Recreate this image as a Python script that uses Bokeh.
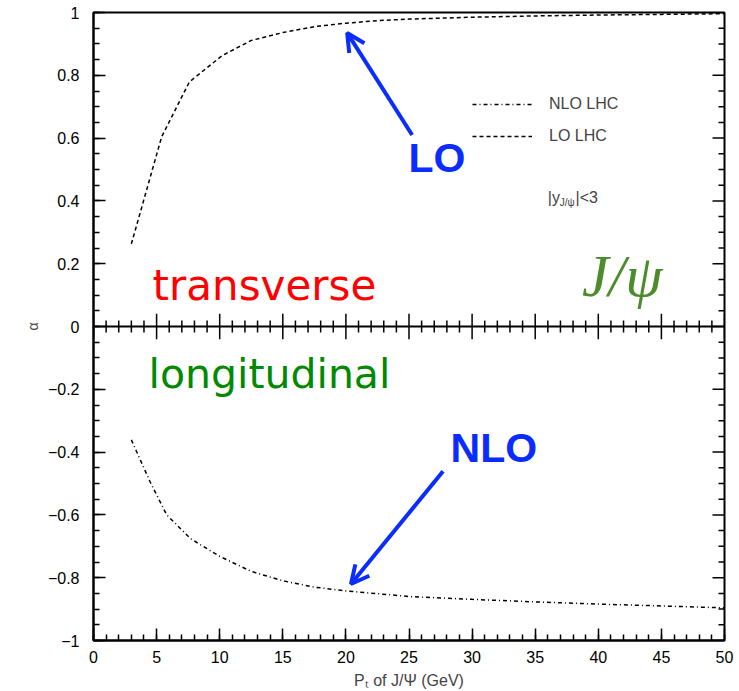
from bokeh.plotting import figure
from bokeh.models import (Range1d, FixedTicker, Span, Legend, LegendItem,
                          Arrow, OpenHead, Label)
from bokeh.embed import file_html
from bokeh.resources import INLINE

# ---- data ----
lo_pt = [3, 5.4, 7.6, 10.2, 12.5, 15, 17.5, 20, 22.5, 25, 30, 35, 40, 45, 50]
lo_alpha = [0.263, 0.604, 0.779, 0.863, 0.911, 0.936, 0.955, 0.966, 0.974, 0.979,
            0.985, 0.989, 0.992, 0.994, 0.996]

nlo_pt = [3, 4.5, 5.8, 7.7, 10, 12.5, 15, 17.5, 20, 25, 30, 35, 40, 45, 50]
nlo_alpha = [-0.361, -0.496, -0.600, -0.676, -0.732, -0.780, -0.810, -0.830, -0.842,
             -0.860, -0.869, -0.877, -0.884, -0.890, -0.896]

y_ticks = [-1, -0.8, -0.6, -0.4, -0.2, 0, 0.2, 0.4, 0.6, 0.8, 1]
y_tick_labels = ["\u22121", "\u22120.8", "\u22120.6", "\u22120.4", "\u22120.2", "0",
                 "0.2", "0.4", "0.6", "0.8", "1"]
y_minor = [round(-1 + 0.05 * i, 2) for i in range(41)]
x_ticks = [0, 5, 10, 15, 20, 25, 30, 35, 40, 45, 50]
x_minor = list(range(0, 51))

BLUE = "#0a2cff"
FONT = "Liberation Sans"
X_MAX = 50

p = figure(width=735, height=691, x_range=Range1d(0, X_MAX), y_range=Range1d(-1, 1),
           output_backend="svg", toolbar_location=None,
           min_border_left=93, min_border_right=11, min_border_top=12, min_border_bottom=49,
           x_axis_location="below", y_axis_location="left")
p.grid.visible = False
p.outline_line_color = "black"
p.outline_line_width = 2
p.background_fill_color = "white"
p.border_fill_color = "white"

# left axis
ya = p.yaxis[0]
ya.ticker = FixedTicker(ticks=y_ticks, minor_ticks=y_minor)
ya.major_label_overrides = {t: l for t, l in zip(y_ticks, y_tick_labels)}
ya.major_tick_in = 12
ya.major_tick_out = 0
ya.minor_tick_in = 6
ya.minor_tick_out = 0
ya.axis_line_width = 2
ya.major_tick_line_width = 1.5
ya.minor_tick_line_width = 1.5
ya.major_label_standoff = 14
ya.major_label_text_font = FONT
ya.major_label_text_font_size = "16px"
ya.major_label_text_color = "black"
ya.axis_label = "\u03b1"
ya.axis_label_text_font = FONT
ya.axis_label_text_font_style = "normal"
ya.axis_label_text_font_size = "14px"
ya.axis_label_standoff = 4

# bottom axis
xa = p.xaxis[0]
xa.ticker = FixedTicker(ticks=x_ticks, minor_ticks=x_minor)
xa.major_tick_in = 12
xa.major_tick_out = 0
xa.minor_tick_in = 6
xa.minor_tick_out = 0
xa.axis_line_width = 2
xa.major_tick_line_width = 1.5
xa.minor_tick_line_width = 1.5
xa.major_label_standoff = 10
xa.major_label_text_font = FONT
xa.major_label_text_font_size = "16px"
xa.major_label_text_color = "black"
xa.axis_label = "P\u209c of J/\u03a8 (GeV)"
xa.axis_label_text_font = FONT
xa.axis_label_text_font_style = "normal"
xa.axis_label_text_font_size = "16px"
xa.axis_label_standoff = 6

# right-hand frame ticks (pointing inward), from the y tick lists
y_minor_only = [y for y in y_minor if y not in y_ticks]
p.segment(x0=[X_MAX - 0.475] * len(y_minor_only), y0=y_minor_only,
          x1=[X_MAX] * len(y_minor_only), y1=y_minor_only,
          line_color="black", line_width=1.5)
p.segment(x0=[X_MAX - 0.95] * len(y_ticks), y0=y_ticks,
          x1=[X_MAX] * len(y_ticks), y1=y_ticks,
          line_color="black", line_width=1.5)

# zero line with crossing ticks
p.add_layout(Span(location=0, dimension="width", line_color="black", line_width=2))
x_minor_only = [x for x in x_minor if x not in x_ticks]
p.segment(x0=x_minor_only, y0=[-0.019] * len(x_minor_only), x1=x_minor_only,
          y1=[0.019] * len(x_minor_only), line_color="black", line_width=1.5)
p.segment(x0=x_ticks, y0=[-0.041] * len(x_ticks), x1=x_ticks,
          y1=[0.041] * len(x_ticks), line_color="black", line_width=1.5)

# curves
lo_r = p.line(lo_pt, lo_alpha, line_color="black", line_width=1.5, line_dash="4 3")
nlo_r = p.line(nlo_pt, nlo_alpha, line_color="black", line_width=1.5, line_dash="4 3 1 3")

legend = Legend(items=[LegendItem(label="NLO LHC", renderers=[nlo_r]),
                       LegendItem(label="LO LHC", renderers=[lo_r])],
                location=(379, 494), glyph_width=60, glyph_height=20, label_standoff=17,
                spacing=12, padding=0, margin=0, border_line_alpha=0,
                background_fill_alpha=0, label_text_font=FONT,
                label_text_font_size="16px", label_height=20)
p.add_layout(legend)

# |y_J/psi| < 3
p.add_layout(Label(x=36, y=0.41, text="|y", text_font=FONT, text_font_size="16px",
                   text_baseline="alphabetic"))
p.add_layout(Label(x=36.95, y=0.396, text="J/\u03c8", text_font=FONT, text_font_size="10px",
                   text_baseline="alphabetic"))
p.add_layout(Label(x=38.2, y=0.41, text="|<3", text_font=FONT, text_font_size="16px",
                   text_baseline="alphabetic"))

# arrows and LO / NLO
p.add_layout(Arrow(end=OpenHead(line_color=BLUE, line_width=4, size=18),
                   x_start=25.25, y_start=0.61, x_end=20.1, y_end=0.935,
                   line_color=BLUE, line_width=4))
p.add_layout(Arrow(end=OpenHead(line_color=BLUE, line_width=4, size=18),
                   x_start=27.7, y_start=-0.461, x_end=20.4, y_end=-0.82,
                   line_color=BLUE, line_width=4))
p.add_layout(Label(x=24.96, y=0.537, text="LO", text_font=FONT, text_font_style="bold",
                   text_font_size="41px", text_color=BLUE, text_baseline="alphabetic"))
p.add_layout(Label(x=28.29, y=-0.388, text="NLO", text_font=FONT, text_font_style="bold",
                   text_font_size="41px", text_color=BLUE, text_baseline="alphabetic"))

# panel titles
p.add_layout(Label(x=4.68, y=0.130, text="transverse", text_font="DejaVu Sans",
                   text_font_size="42px", text_color="#ff0000", text_baseline="alphabetic"))
p.add_layout(Label(x=4.36, y=-0.152, text="longitudinal", text_font="DejaVu Sans",
                   text_font_size="41px", text_color="#008a00", text_baseline="alphabetic"))
p.add_layout(Label(x=38.7, y=0.162, text="J/\u03c8", text_font="Liberation Serif",
                   text_font_style="italic", text_font_size="60px", text_color="#4d8c2c",
                   text_baseline="alphabetic"))

open("out.html", "w").write(file_html(p, INLINE))
